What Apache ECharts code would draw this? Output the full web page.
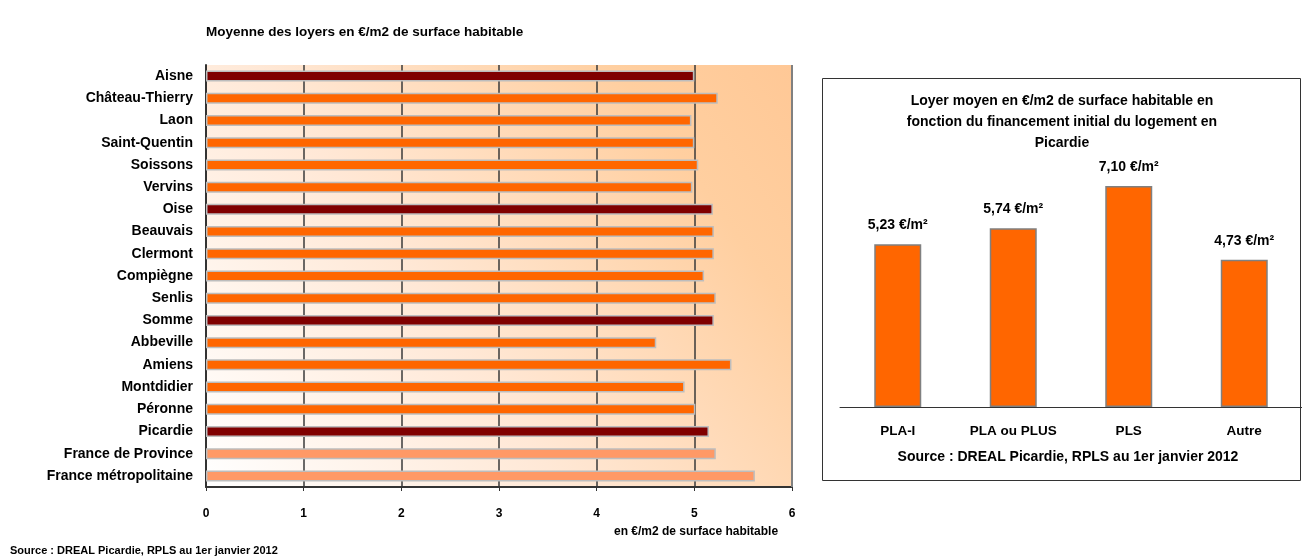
<!DOCTYPE html>
<html>
<head>
<meta charset="utf-8">
<script src="https://cdn.jsdelivr.net/npm/echarts@6/dist/echarts.min.js"></script>
<style>
  html, body { margin: 0; padding: 0; background: #ffffff; }
  #chart { width: 1302px; height: 560px; }
</style>
</head>
<body>
<div id="chart"></div>
<script>
// Loyers moyens par territoire (€/m2)
const territoires = [
  'Aisne', 'Château-Thierry', 'Laon', 'Saint-Quentin', 'Soissons', 'Vervins',
  'Oise', 'Beauvais', 'Clermont', 'Compiègne', 'Senlis',
  'Somme', 'Abbeville', 'Amiens', 'Montdidier', 'Péronne',
  'Picardie', 'France de Province', 'France métropolitaine'
];
const loyers = [
  5.00, 5.24, 4.97, 5.00, 5.04, 4.98,
  5.19, 5.20, 5.20, 5.10, 5.22,
  5.20, 4.61, 5.38, 4.90, 5.01,
  5.15, 5.22, 5.62
];
// niveau : 'dep' = département/région, 'nat' = France, autre = zone
const niveaux = [
  'dep', 'zone', 'zone', 'zone', 'zone', 'zone',
  'dep', 'zone', 'zone', 'zone', 'zone',
  'dep', 'zone', 'zone', 'zone', 'zone',
  'dep', 'nat', 'nat'
];
const xTicks = [0, 1, 2, 3, 4, 5, 6];

// Loyer moyen selon le financement initial
const financements = ['PLA-I', 'PLA ou PLUS', 'PLS', 'Autre'];
const loyersFinancement = [5.23, 5.74, 7.10, 4.73];

const FONT = '"Liberation Sans", Arial, sans-serif';
const couleurs = { dep: '#800000', zone: '#FF6600', nat: '#FF9966' };

const chart = echarts.init(document.getElementById('chart'), null, { renderer: 'canvas' });

chart.setOption({
  animation: false,
  backgroundColor: '#ffffff',
  textStyle: { fontFamily: FONT },
  title: {
    text: 'Moyenne des loyers en €/m2 de surface habitable',
    left: 201, top: 20,
    textStyle: { fontFamily: FONT, fontSize: 13.5, fontWeight: 'bold', color: '#000' }
  },
  grid: [
    {
      left: 206, top: 65, width: 586, height: 422,
      show: true,
      borderWidth: 0,
      backgroundColor: {
        type: 'linear', x: 0, y: 1, x2: 1, y2: 0,
        colorStops: [
          { offset: 0, color: '#FFFFFF' },
          { offset: 0.4, color: '#FFE8D6' },
          { offset: 0.8, color: '#FFCFA0' },
          { offset: 1, color: '#FFC896' }
        ]
      }
    },
    { left: 840, top: 158, width: 466, height: 249 }
  ],
  xAxis: [
    {
      gridIndex: 0, type: 'value', min: 0, max: 6, interval: 1,
      axisLine: { show: true, lineStyle: { color: '#333', width: 2 } },
      axisTick: { show: true, length: 4, lineStyle: { color: '#333' } },
      axisLabel: {
        margin: 21, color: '#000', fontSize: 12, fontWeight: 'bold', fontFamily: FONT,
        formatter: v => xTicks.includes(v) ? String(v) : ''
      },
      splitLine: { show: true, lineStyle: { color: '#3a3a3a', width: 1.5 } }
    },
    {
      gridIndex: 1, type: 'category', data: financements,
      axisLine: { show: true, lineStyle: { color: '#333', width: 1 } },
      axisTick: { show: false },
      axisLabel: {
        interval: 0, margin: 17, color: '#000', fontSize: 13.5, fontWeight: 'bold', fontFamily: FONT
      }
    }
  ],
  yAxis: [
    {
      gridIndex: 0, type: 'category', data: territoires, inverse: true,
      axisLine: { show: true, lineStyle: { color: '#333', width: 2 } },
      axisTick: { show: false },
      axisLabel: { interval: 0, margin: 13, color: '#000', fontSize: 14, fontWeight: 'bold', fontFamily: FONT }
    },
    {
      gridIndex: 1, type: 'value', min: 0, max: 8, show: false,
      splitLine: { show: false }
    }
  ],
  series: [
    {
      type: 'bar', xAxisIndex: 0, yAxisIndex: 0,
      barWidth: 11,
      data: loyers.map((v, i) => ({
        value: v,
        itemStyle: { color: couleurs[niveaux[i]], borderColor: '#BDBDBD', borderWidth: 1.5 }
      })),
      markLine: {
        silent: true, symbol: 'none', label: { show: false },
        lineStyle: { color: '#808080', width: 2, type: 'solid' },
        data: [{ xAxis: 6 }]
      }
    },
    {
      type: 'bar', xAxisIndex: 1, yAxisIndex: 1,
      barWidth: 47,
      itemStyle: { color: '#FF6600', borderColor: '#808080', borderWidth: 1.5 },
      label: {
        show: true, position: 'top', distance: 12,
        color: '#000', fontSize: 14, fontWeight: 'bold', fontFamily: FONT,
        formatter: p => p.value.toFixed(2).replace('.', ',') + ' €/m²'
      },
      data: loyersFinancement
    }
  ],
  graphic: [
    {
      type: 'text', left: 614, top: 526,
      style: { text: 'en €/m2 de surface habitable', font: 'bold 12px ' + FONT, fill: '#000' }
    },
    {
      type: 'text', left: 10, top: 545,
      style: { text: 'Source : DREAL Picardie, RPLS au 1er janvier 2012', font: 'bold 11px ' + FONT, fill: '#000' }
    },
    {
      type: 'rect', left: 822, top: 78, z: -1,
      shape: { width: 478, height: 402 },
      style: { fill: '#fff', stroke: '#333', lineWidth: 1 }
    },
    {
      type: 'text', x: 1062, y: 91,
      style: {
        text: 'Loyer moyen en €/m2 de surface habitable en\nfonction du financement initial du logement en\nPicardie',
        font: 'bold 14px ' + FONT, fill: '#000', align: 'center', lineHeight: 21
      }
    },
    {
      type: 'text', x: 1068, y: 450,
      style: {
        text: 'Source : DREAL Picardie, RPLS au 1er janvier 2012',
        font: 'bold 14px ' + FONT, fill: '#000', align: 'center'
      }
    }
  ]
});
</script>
</body>
</html>
